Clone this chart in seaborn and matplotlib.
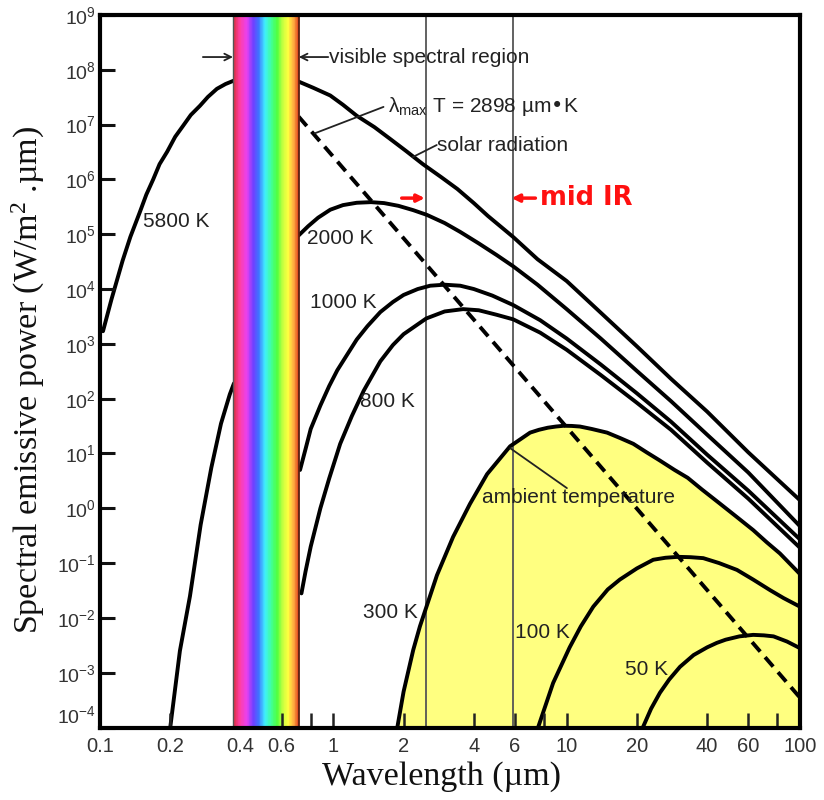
import numpy as np
import pandas as pd
import matplotlib
matplotlib.use("Agg")
import matplotlib.pyplot as plt
import seaborn as sns
from matplotlib.colors import LinearSegmentedColormap
from matplotlib.ticker import FixedLocator, FixedFormatter, NullLocator

# ---------------- data ----------------
k5800_left_x = [0.103, 0.112, 0.125, 0.135, 0.148, 0.158, 0.169, 0.18, 0.194, 0.21, 0.227, 0.245, 0.268, 0.29, 0.317, 0.345, 0.373]
k5800_left_y = [1.7e3, 6.5e3, 3.3e4, 9e4, 2.5e5, 5.3e5, 1.0e6, 1.9e6, 3.2e6, 6e6, 9.5e6, 1.5e7, 2.2e7, 3.2e7, 4.5e7, 5.5e7, 6.3e7]

solar_x = [0.71, 0.82, 0.97, 1.1, 1.26, 1.5, 1.75, 2.05, 2.42, 2.9, 3.4, 4.0, 4.6, 5.9, 7.5, 10, 14, 20, 28, 40, 60, 100]
solar_y = [6.1e7, 4.7e7, 3.4e7, 2.3e7, 1.45e7, 9e6, 5.5e6, 3.3e6, 1.9e6, 1.1e6, 6.7e5, 3.7e5, 2.15e5, 8.9e4, 3.5e4, 1.4e4, 3.7e3, 9.0e2, 2.3e2, 58, 10.5, 1.4]

k2000_left_x = [0.2, 0.22, 0.243, 0.27, 0.3, 0.33, 0.36, 0.375]
k2000_left_y = [1e-4, 2.5e-3, 0.025, 0.5, 5.5, 35, 120, 190]

k2000_x = [0.71, 0.78, 0.86, 0.97, 1.1, 1.26, 1.45, 1.65, 1.9, 2.2, 2.52, 3.0, 3.5, 4.2, 5.0, 5.9, 7.5, 10, 14, 20, 28, 40, 60, 100]
k2000_y = [9.5e4, 1.4e5, 2.0e5, 2.8e5, 3.4e5, 3.75e5, 3.85e5, 3.7e5, 3.3e5, 2.75e5, 2.25e5, 1.6e5, 1.1e5, 6.8e4, 4.2e4, 2.6e4, 1.2e4, 4.3e3, 1.25e3, 3.2e2, 90, 22, 4.5, 0.47]

k1000_x = [0.72, 0.76, 0.8, 0.88, 0.96, 1.04, 1.15, 1.26, 1.4, 1.59, 1.8, 2.0, 2.3, 2.6, 3.0, 3.5, 4.0, 4.8, 5.9, 7.7, 10, 14, 20, 28, 40, 60, 100]
k1000_y = [5, 12, 28, 75, 170, 330, 650, 1.2e3, 2.1e3, 3.8e3, 5.8e3, 7.8e3, 1.0e4, 1.15e4, 1.2e4, 1.15e4, 1.0e4, 7.6e3, 5.1e3, 2.7e3, 1.25e3, 4.2e2, 1.25e2, 38, 9.5, 2.1, 0.27]

k800_x = [0.73, 0.76, 0.8, 0.88, 0.96, 1.07, 1.2, 1.35, 1.59, 1.8, 2.0, 2.5, 3.0, 3.6, 4.2, 5.0, 5.9, 7.7, 10, 14, 20, 28, 40, 60, 100]
k800_y = [0.028, 0.07, 0.2, 1.0, 3.5, 15, 48, 140, 480, 950, 1.5e3, 2.9e3, 3.9e3, 4.3e3, 4.1e3, 3.4e3, 2.8e3, 1.6e3, 7.8e2, 2.7e2, 84, 27, 6.8, 1.5, 0.19]

k300_x = [1.88, 2.0, 2.2, 2.35, 2.78, 3.26, 3.85, 4.56, 5.72, 6.97, 7.6, 8.3, 9.0, 9.7, 10.5, 11.4, 12.8, 14.9, 17, 19.3, 22, 25, 29, 33, 38, 45, 53, 63, 72, 82, 100]
k300_y = [1e-4, 4.5e-4, 2.6e-3, 7e-3, 0.06, 0.3, 1.2, 4.2, 13.5, 24, 27, 29.5, 31, 32, 31.8, 31, 28, 24, 19, 15, 10.5, 7.5, 5, 3.6, 2.2, 1.25, 0.72, 0.4, 0.24, 0.15, 0.063]

k100_x = [7.54, 8.75, 10.3, 11.5, 13, 15, 16.9, 20, 23.5, 26.5, 30, 34, 38.5, 45, 53.7, 63, 74.5, 85, 100]
k100_y = [1e-4, 6.5e-4, 2.9e-3, 7e-3, 0.016, 0.033, 0.05, 0.08, 0.115, 0.125, 0.13, 0.128, 0.123, 0.1, 0.075, 0.05, 0.032, 0.023, 0.016]

k50_x = [21.2, 23, 25.1, 27.5, 30.6, 35, 40, 44, 48, 55, 63, 70, 77, 88, 100]
k50_y = [1e-4, 2.2e-4, 4.3e-4, 7.5e-4, 1.28e-3, 2.1e-3, 2.9e-3, 3.5e-3, 4.0e-3, 4.6e-3, 4.9e-3, 4.8e-3, 4.6e-3, 3.7e-3, 2.8e-3]

wien_x = [0.71, 100]
wien_y = [1.4e7, 3.5e-4]

visible_band = [0.373, 0.712]
mid_ir_lines = [2.5, 5.9]

xtick_vals = [0.1, 0.2, 0.4, 0.6, 0.8, 1, 2, 4, 6, 8, 10, 20, 40, 60, 80, 100]
xtick_labels = ["0.1", "0.2", "0.4", "0.6", "", "1", "2", "4", "6", "", "10", "20", "40", "60", "", "100"]
ytick_exps = list(range(-4, 10))

# ---------------- style ----------------
sns.set_theme(style="white")
plt.rcParams["font.family"] = ["Liberation Sans", "DejaVu Sans"]
plt.rcParams["mathtext.default"] = "regular"

fig = plt.figure(figsize=(8.24, 8.0), dpi=100)
ax = fig.add_axes([100 / 824, 1 - 727.5 / 800, 700 / 824, 712.5 / 800])
ax.set_xscale("log")
ax.set_yscale("log")
ax.set_xlim(0.1, 100)
ax.set_ylim(1e-4, 1e9)

LW = 2.8
def curve(xs, ys, **kw):
    df = pd.DataFrame({"x": xs, "y": ys})
    sns.lineplot(data=df, x="x", y="y", ax=ax, color="black", lw=LW,
                 sort=False, estimator=None, zorder=4, **kw)

# ambient (300 K) fill
ax.fill_between(k300_x, k300_y, 1e-4, color="#ffff80", lw=0, zorder=1)

# mid-IR lines
for xv in mid_ir_lines:
    ax.axvline(xv, color="#555555", lw=1.3, zorder=2)

for xs, ys in [(k5800_left_x, k5800_left_y), (solar_x, solar_y),
               (k2000_left_x, k2000_left_y), (k2000_x, k2000_y),
               (k1000_x, k1000_y), (k800_x, k800_y), (k300_x, k300_y),
               (k100_x, k100_y), (k50_x, k50_y)]:
    curve(xs, ys)
curve(wien_x, wien_y, linestyle=(0, (3.2, 1.9)))

# visible spectrum band
spec = LinearSegmentedColormap.from_list("spec", [
    (0.00, "#e0304a"), (0.10, "#ff3fa8"), (0.20, "#e840f0"), (0.30, "#7040ff"),
    (0.38, "#4070ff"), (0.48, "#40f0ff"), (0.58, "#40ff98"), (0.67, "#50ff40"),
    (0.76, "#c8ff40"), (0.84, "#ffff40"), (0.92, "#ffb040"), (1.00, "#e04a20")])
edges = np.geomspace(visible_band[0], visible_band[1], 91)
for i in range(90):
    ax.axvspan(edges[i], edges[i + 1], color=spec(i / 89), lw=0, zorder=5)
ax.axvline(visible_band[0], color="#555555", lw=1.0, zorder=6)
ax.axvline(visible_band[1], color="#5a2010", lw=1.3, zorder=6)

# ---------------- axes ----------------
for s in ax.spines.values():
    s.set_visible(True)
    s.set_color("black")
    s.set_linewidth(3)
    s.set_zorder(10)
ax.set_axisbelow(False)
ax.xaxis.set_zorder(9)
ax.yaxis.set_zorder(9)
ax.xaxis.set_major_locator(FixedLocator(xtick_vals))
ax.xaxis.set_major_formatter(FixedFormatter(xtick_labels))
ax.xaxis.set_minor_locator(NullLocator())
ax.yaxis.set_major_locator(FixedLocator([10.0 ** e for e in ytick_exps]))
ax.yaxis.set_major_formatter(FixedFormatter([f"$10^{{{e}}}$" for e in ytick_exps]))
ax.yaxis.set_minor_locator(NullLocator())
ax.tick_params(axis="x", direction="in", length=11, width=1.8, pad=7, color="#222222",
               labelsize=14.5, labelcolor="#333333", bottom=True, top=False)
ax.tick_params(axis="y", direction="in", length=11, width=2.2, pad=3, color="#111111",
               labelsize=14, labelcolor="#333333", left=True, right=False)
# the 0.4 tick mark is not visible in the reference (inside the visible band)
ax.xaxis.get_major_ticks()[2].tick1line.set_visible(False)
# keep the lowest y label just clear of the "0.1" label below it
ax.yaxis.get_major_ticks()[0].label1.set_verticalalignment("bottom")
ax.set_xlabel("Wavelength (µm)", family="Liberation Serif", fontsize=24.5, color="#111111")
ax.set_ylabel("Spectral emissive power (W/m$^2$ .µm)", family="Liberation Serif",
              fontsize=24.5, color="#111111")
ax.yaxis.set_label_coords(-0.076, 0.488)
ax.xaxis.set_label_coords(0.488, -0.047)

# ---------------- annotations ----------------
T = ax.transAxes
FS = 15
tkw = dict(transform=T, fontsize=FS, color="#222222", va="center", ha="left", zorder=12)
akw = dict(lw=1.3, color="#222222", shrinkA=0, shrinkB=0)
ax.text(0.327, 0.941, "visible spectral region", **tkw)
ax.annotate("", xy=(0.284, 0.941), xytext=(0.326, 0.941), xycoords=T, textcoords=T,
            arrowprops=dict(arrowstyle="->", **akw), zorder=12)
ax.annotate("", xy=(0.190, 0.941), xytext=(0.147, 0.941), xycoords=T, textcoords=T,
            arrowprops=dict(arrowstyle="->", **akw), zorder=12)

ax.text(0.411, 0.871, "λ$_{max}$ T = 2898 µm•K", **tkw)
ax.annotate("", xy=(0.307, 0.834), xytext=(0.405, 0.871), xycoords=T, textcoords=T,
            arrowprops=dict(arrowstyle="-", **akw), zorder=12)
ax.text(0.482, 0.8175, "solar radiation", **tkw)
ax.annotate("", xy=(0.447, 0.8007), xytext=(0.481, 0.8175), xycoords=T, textcoords=T,
            arrowprops=dict(arrowstyle="-", **akw), zorder=12)

rkw = dict(arrowstyle="-|>", lw=2.5, color="#ff1010", mutation_scale=11, shrinkA=0, shrinkB=0)
ax.annotate("", xy=(0.464, 0.743), xytext=(0.431, 0.743), xycoords=T, textcoords=T,
            arrowprops=rkw, zorder=12)
ax.annotate("", xy=(0.588, 0.743), xytext=(0.622, 0.743), xycoords=T, textcoords=T,
            arrowprops=rkw, zorder=12)
ax.text(0.629, 0.743, "mid IR", transform=T, fontsize=18.5, fontweight="bold",
        family="DejaVu Sans", color="#ff1010", va="center", ha="left", zorder=12)

ax.text(0.061, 0.7095, "5800 K", **tkw)
ax.text(0.296, 0.687, "2000 K", **tkw)
ax.text(0.300, 0.596, "1000 K", **tkw)
ax.text(0.371, 0.457, "800 K", **tkw)
ax.text(0.376, 0.162, "300 K", **tkw)
ax.text(0.593, 0.134, "100 K", **tkw)
ax.text(0.750, 0.082, "50 K", **tkw)
ax.text(0.546, 0.3235, "ambient temperature", **tkw)
ax.annotate("", xy=(0.586, 0.392), xytext=(0.667, 0.336), xycoords=T, textcoords=T,
            arrowprops=dict(arrowstyle="-", **akw), zorder=12)

fig.savefig("out.png", dpi=100)
